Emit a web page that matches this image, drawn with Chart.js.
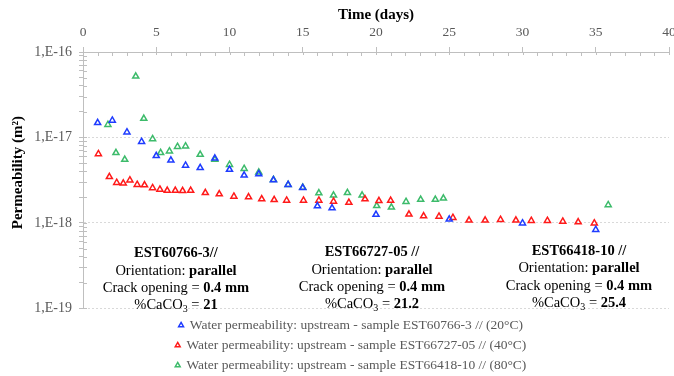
<!DOCTYPE html>
<html>
<head>
<meta charset="utf-8">
<script src="https://cdn.jsdelivr.net/npm/chart.js@4.4.1/dist/chart.umd.min.js"></script>
<style>
  html, body { margin: 0; padding: 0; background: #fff; }
  #wrap { width: 674px; height: 376px; }
</style>
</head>
<body>
<div id="wrap"><canvas id="perm-chart"></canvas></div>
<script>
// sample EST60766-3 (20°C)
const days20 = [1, 2, 3, 4, 5, 6, 7, 8, 9, 10, 11, 12, 13, 14, 15, 16, 17, 20, 25, 30, 35]
const perm20 = [1.48e-17, 1.58e-17, 1.15e-17, 8.9e-18, 6.1e-18, 5.4e-18, 4.7e-18, 4.4e-18, 5.7e-18, 4.2e-18, 3.6e-18,
  3.72e-18, 3.17e-18, 2.8e-18, 2.57e-18, 1.57e-18, 1.49e-18, 1.25e-18, 1.1e-18, 0.99e-18, 0.83e-18]

// sample EST66727-05 (40°C)
const days40 = [1.05, 1.8, 2.3, 2.75, 3.2, 3.7, 4.2, 4.75, 5.25, 5.75, 6.3, 6.8, 7.35, 8.35, 9.3, 10.3, 11.3, 12.2, 13.05, 13.9,
  15.05, 16.1, 17.1, 18.15, 19.25, 20.2, 21.0, 22.25, 23.25, 24.3, 25.25, 26.35, 27.45, 28.5, 29.55, 30.6, 31.7, 32.75, 33.8, 34.9]
const perm40 = [6.4e-18, 3.46e-18, 2.95e-18, 2.9e-18, 3.16e-18, 2.8e-18, 2.77e-18, 2.56e-18, 2.46e-18, 2.39e-18, 2.39e-18, 2.37e-18,
  2.39e-18, 2.25e-18, 2.17e-18, 2.04e-18, 2.0e-18, 1.9e-18, 1.86e-18, 1.83e-18, 1.83e-18, 1.83e-18, 1.78e-18, 1.73e-18, 1.9e-18,
  1.81e-18, 1.82e-18, 1.26e-18, 1.2e-18, 1.19e-18, 1.15e-18, 1.07e-18, 1.07e-18, 1.09e-18, 1.07e-18, 1.06e-18, 1.06e-18, 1.04e-18,
  1.02e-18, 0.99e-18]

// sample EST66418-10 (80°C)
const days80 = [1.7, 2.25, 2.85, 3.6, 4.15, 4.75, 5.3, 5.9, 6.45, 7.0, 8.0, 9.0, 10.0, 11.0, 12.0, 13.0, 14.0, 15.0, 16.1, 17.1,
  18.05, 19.05, 20.05, 21.05, 22.05, 23.05, 24.05, 24.6, 35.85]
const perm80 = [1.41e-17, 6.6e-18, 5.5e-18, 5.2e-17, 1.66e-17, 9.6e-18, 6.6e-18, 6.9e-18, 7.8e-18, 7.9e-18, 6.3e-18, 5.5e-18, 4.8e-18,
  4.3e-18, 3.9e-18, 3.2e-18, 2.8e-18, 2.6e-18, 2.23e-18, 2.1e-18, 2.25e-18, 2.1e-18, 1.58e-18, 1.52e-18, 1.77e-18, 1.87e-18,
  1.87e-18, 1.94e-18, 1.62e-18]

const seriesLabels = [
  'Water permeability: upstream - sample EST60766-3 // (20°C)',
  'Water permeability: upstream - sample EST66727-05 // (40°C)',
  'Water permeability: upstream - sample EST66418-10 // (80°C)',
]

// text boxes: [text, n=normal b=bold s=subscript]
const notes = [
  [[['EST60766-3//', 'b']], [['Orientation: ', 'n'], ['parallel', 'b']], [['Crack opening = ', 'n'], ['0.4 mm', 'b']],
    [['%CaCO', 'n'], ['3', 's'], [' = ', 'n'], ['21', 'b']]],
  [[['EST66727-05 //', 'b']], [['Orientation: ', 'n'], ['parallel', 'b']], [['Crack opening = ', 'n'], ['0.4 mm', 'b']],
    [['%CaCO', 'n'], ['3', 's'], [' = ', 'n'], ['21.2', 'b']]],
  [[['EST66418-10 //', 'b']], [['Orientation: ', 'n'], ['parallel', 'b']], [['Crack opening = ', 'n'], ['0.4 mm', 'b']],
    [['%CaCO', 'n'], ['3', 's'], [' = ', 'n'], ['25.4', 'b']]],
]

const serif = '"Liberation Serif", "Times New Roman", serif'
Chart.defaults.font.family = serif

const axisGray = '#bfbfbf'
const labelGray = '#595959'
const isDecade = v => Math.abs(Math.log10(v) - Math.round(Math.log10(v))) < 1e-6
const toPoints = (xs, ys) => xs.map((x, i) => ({ x, y: ys[i] }))

// short tick marks on the inner side of both axes
const innerTicks = {
  id: 'innerTicks',
  afterDraw(chart) {
    const { ctx, chartArea: { left, top } } = chart
    const x = chart.scales.x, y = chart.scales.y
    ctx.save()
    ctx.strokeStyle = axisGray
    ctx.lineWidth = 1
    ctx.beginPath()
    y.ticks.forEach(t => {
      const py = Math.round(y.getPixelForValue(t.value)) + 0.5
      ctx.moveTo(left, py)
      ctx.lineTo(left + 4, py)
    })
    x.ticks.forEach(t => {
      const px = Math.round(x.getPixelForValue(t.value)) + 0.5
      ctx.moveTo(px, top)
      ctx.lineTo(px, top + (t.value % 5 === 0 ? 3 : 4))
    })
    ctx.stroke()
    ctx.restore()
  }
}

// the three sample text boxes
const notePlaceX = [176, 372, 579]
const notePlaceY = [253.5, 252.7, 251.3]
const textBoxes = {
  id: 'textBoxes',
  afterDatasetsDraw(chart) {
    const ctx = chart.ctx
    const fontOf = s => s === 'b' ? `bold 14.5px ${serif}` : s === 's' ? `10px ${serif}` : `14.5px ${serif}`
    ctx.save()
    ctx.fillStyle = '#000'
    ctx.textBaseline = 'middle'
    ctx.textAlign = 'left'
    notes.forEach((lines, n) => {
      lines.forEach((segs, i) => {
        let total = 0
        segs.forEach(([t, s]) => { ctx.font = fontOf(s); total += ctx.measureText(t).width })
        let cx = notePlaceX[n] - total / 2
        const cy = notePlaceY[n] + i * 17.3
        segs.forEach(([t, s]) => {
          ctx.font = fontOf(s)
          ctx.fillText(t, cx, s === 's' ? cy + 4 : cy)
          cx += ctx.measureText(t).width
        })
      })
    })
    ctx.restore()
  }
}

const ctx = document.getElementById('perm-chart').getContext('2d')
const dsBase = { pointStyle: 'triangle', pointRadius: 3.5, pointHoverRadius: 3.5, borderWidth: 1.5, backgroundColor: 'rgba(255,255,255,0)' }
const permChart = new Chart(ctx, {
  type: 'scatter',
  data: {
    datasets: [
      { ...dsBase, label: seriesLabels[0], data: toPoints(days20, perm20), borderColor: '#1f3cff' },
      { ...dsBase, label: seriesLabels[1], data: toPoints(days40, perm40), borderColor: '#ff1a1a' },
      { ...dsBase, label: seriesLabels[2], data: toPoints(days80, perm80), borderColor: '#3dbb6b' },
    ],
  },
  options: {
    responsive: true,
    maintainAspectRatio: false,
    animation: false,
    layout: { padding: { left: 0, right: -28, top: 0, bottom: -6 } },
    plugins: {
      tooltip: { enabled: false },
      legend: {
        position: 'bottom',
        title: { display: true, text: '', padding: 0, font: { size: 3, lineHeight: 1.25 } },
        labels: { usePointStyle: true, boxWidth: 4, boxHeight: 4, padding: 6.5, color: labelGray, font: { size: 13.5 } },
      },
    },
    scales: {
      x: {
        type: 'linear',
        position: 'top',
        min: 0,
        max: 40,
        afterFit: s => { s.height = 52; s.paddingLeft = 0; s.paddingRight = 0 },
        title: { display: true, text: 'Time (days)', color: '#000', font: { size: 15, weight: 'bold' }, padding: { top: 6, bottom: 0 } },
        ticks: {
          stepSize: 1, autoSkip: false, maxTicksLimit: 100, maxRotation: 0, padding: 6,
          color: labelGray, font: { size: 13.5 },
          callback: v => v % 5 === 0 ? v : '',
        },
        grid: { drawOnChartArea: false, tickLength: 5, tickColor: c => c.tick && c.tick.value % 5 === 0 ? axisGray : 'rgba(0,0,0,0)' },
        border: { color: axisGray, width: 1 },
      },
      y: {
        type: 'logarithmic',
        min: 1e-19,
        max: 1e-16,
        afterFit: s => { s.width = 83 },
        afterBuildTicks: s => {
          s.ticks = s.ticks.filter(t => {
            const m = t.value / Math.pow(10, Math.floor(Math.log10(t.value) + 1e-9))
            return Math.abs(m - Math.round(m)) < 1e-6
          })
        },
        title: { display: true, text: '    Permeability (m²)', color: '#000', font: { size: 15, weight: 'bold' }, padding: { top: 9, bottom: 0 } },
        ticks: {
          autoSkip: false, maxTicksLimit: 100, padding: 7, color: labelGray, font: { size: 14 },
          callback: v => isDecade(v) ? '1,E' + Math.round(Math.log10(v)) : '',
        },
        grid: {
          tickLength: 4, tickColor: axisGray, lineWidth: 1,
          color: c => c.tick && isDecade(c.tick.value) ? '#d9d9d9' : 'rgba(0,0,0,0)',
        },
        border: { color: axisGray, dash: [2, 2] },
      },
      y2: {
        position: 'right',
        display: true,
        afterFit: s => { s.width = 29 },
        grid: { display: false },
        ticks: { display: false },
        border: { display: false },
      },
    },
  },
  plugins: [innerTicks, textBoxes],
})
</script>
</body>
</html>
